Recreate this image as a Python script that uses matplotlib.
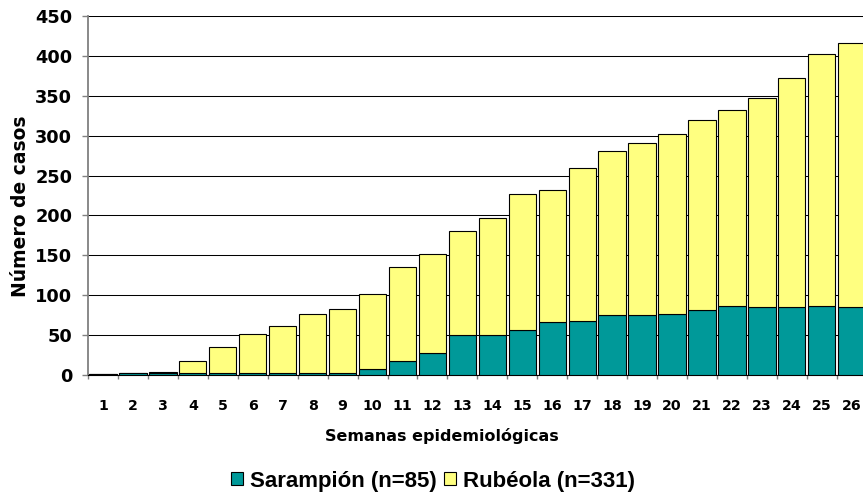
# Casos acumulados de sarampión y rubéola por semana epidemiológica
import numpy as np
import matplotlib
matplotlib.use("Agg")
import matplotlib.pyplot as plt
from matplotlib.ticker import FixedLocator

# ================================================================================
semanas = ["1", "2", "3", "4", "5", "6", "7", "8", "9", "10", "11", "12", "13",
           "14", "15", "16", "17", "18", "19", "20", "21", "22", "23", "24", "25", "26"]
sarampion = [1, 2, 3, 3, 3, 3, 3, 3, 3, 7, 17, 28, 50,
             50, 56, 66, 68, 75, 75, 77, 81, 86, 85, 85, 86, 85]
rubeola = [0, 0, 1, 14, 32, 48, 58, 74, 80, 94, 118, 124, 131,
           147, 171, 166, 192, 206, 216, 225, 239, 246, 262, 287, 316, 331]
y_ticks = [0, 50, 100, 150, 200, 250, 300, 350, 400, 450]

# ================================================================================
fig = plt.figure(figsize=(8.63, 4.95), dpi=100)
# axes runs a little past the right edge, like the original picture
ax = fig.add_axes([88 / 863, 120 / 495, 778.7 / 863, 359 / 495])

x = np.arange(1, len(semanas) + 1)
b1 = ax.bar(x, sarampion, width=0.91, color="#009999", edgecolor="black",
            linewidth=0.8, zorder=3, label="Sarampión (n=85)")
b2 = ax.bar(x, rubeola, width=0.91, bottom=sarampion, color="#FFFF80",
            edgecolor="black", linewidth=0.8, zorder=3, label="Rubéola (n=331)")

ax.set_xlim(0.5, len(semanas) + 0.5)
ax.set_ylim(0, 450)
ax.set_yticks(y_ticks)
ax.yaxis.grid(True, color="black", linewidth=0.75, zorder=0)
ax.set_axisbelow(True)

for s in ["top", "right"]:
    ax.spines[s].set_visible(False)
ax.spines["left"].set_color("#808080")
ax.spines["left"].set_linewidth(1.3)
ax.spines["bottom"].set_color("black")
ax.spines["bottom"].set_linewidth(0.8)

# labels in the middle of each category, small ticks on the borders
ax.set_xticks(x)
ax.set_xticklabels(semanas, fontfamily="DejaVu Sans", fontweight="bold", fontsize=10.2)
ax.tick_params(axis="x", which="major", length=0, pad=17)
ax.xaxis.set_minor_locator(FixedLocator(np.arange(0.5, len(semanas) + 1, 1.0)))
ax.tick_params(axis="x", which="minor", length=3, color="#808080", width=1)
ax.tick_params(axis="y", length=4.3, color="#808080", width=1, pad=7)
for t in ax.get_yticklabels():
    t.set_fontfamily("DejaVu Sans")
    t.set_fontweight("bold")
    t.set_fontsize(12.8)

fig.text(20.7 / 863, 1 - 206 / 495, "Número de casos", rotation=90,
         ha="center", va="center", fontfamily="DejaVu Sans", fontweight="bold",
         fontsize=13.5)
fig.text(441.5 / 863, 1 - 441 / 495, "Semanas epidemiológicas", ha="center",
         va="baseline", fontfamily="DejaVu Sans", fontweight="bold", fontsize=11.5)

fig.legend(handles=[b1, b2], loc="center", bbox_to_anchor=(433 / 863, 1 - 481 / 495),
           ncol=2, frameon=False, prop={"family": "Liberation Sans", "weight": "bold", "size": 16},
           handlelength=0.55, handleheight=0.55, handletextpad=0.3, columnspacing=0.35,
           borderpad=0.0, borderaxespad=0.0)

fig.savefig("out.png", dpi=100)
